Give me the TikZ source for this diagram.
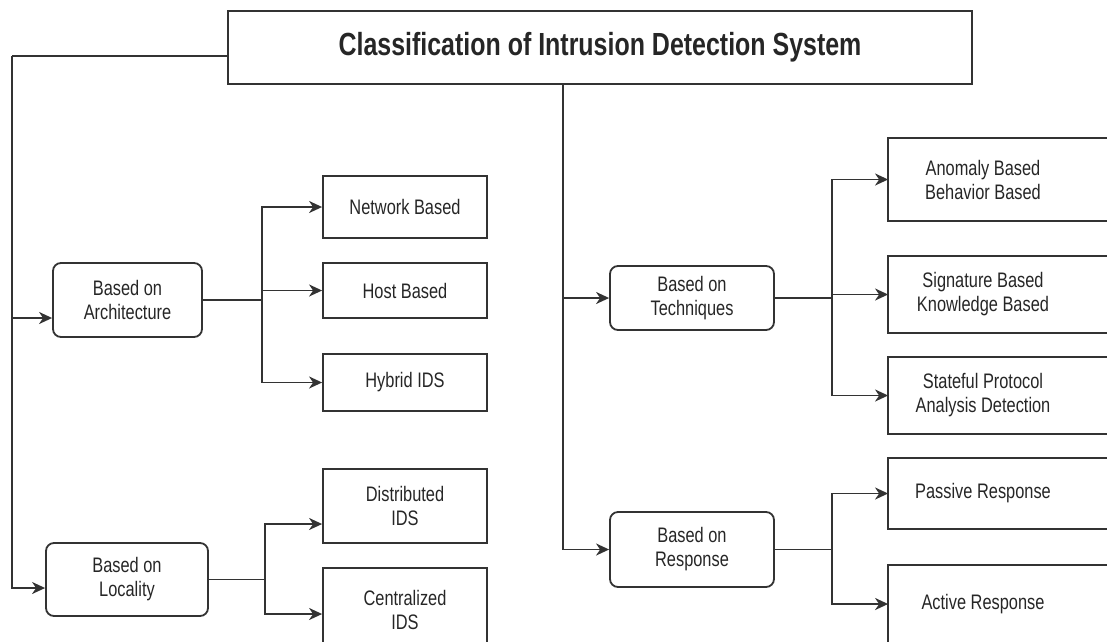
\documentclass[tikz,border=0pt]{standalone}
\usepackage{fontspec}
\setmainfont{Liberation Sans}[FakeStretch=0.78]
\usetikzlibrary{arrows.meta}
\definecolor{ink}{HTML}{333333}

\begin{document}
\begin{tikzpicture}[
  x=1pt, y=-1pt,
  line/.style={draw=ink, line width=1.8pt},
  arr/.style={line, -{Stealth[length=13pt,width=12pt,inset=4pt]}},
  box/.style={draw=ink, line width=1.8pt, text=black!85, align=center, inner sep=2pt,
    font=\fontsize{21}{24}\selectfont},
  grp/.style={box, rounded corners=8pt},
  leaf/.style={box, minimum width=164pt},
  cut/.style={box, draw=none, minimum width=188pt},
]
\useasboundingbox (0,0) rectangle (1107,641);
\clip (0,0) rectangle (1107,641);
%\draw[gray, help lines] (0,0) grid[step=50] (1107,641);
\node[box, line width=2pt, minimum width=744pt, minimum height=73pt,
  font=\bfseries\fontsize{32}{36}\selectfont] (title) at (600,47.5)
  {Classification of Intrusion Detection System};

\node[grp, minimum width=149pt, minimum height=74pt] (arch) at (127.5,300) {Based on\\Architecture};
\node[grp, minimum width=162pt, minimum height=73pt] (loc)  at (127,579.5) {Based on\\Locality};
\node[grp, minimum width=164pt, minimum height=64pt] (tech) at (692,298)   {Based on\\Techniques};
\node[grp, minimum width=164pt, minimum height=75pt] (resp) at (692,549.5) {Based on\\Response};

\node[leaf, minimum height=62pt] (net)  at (405,207)   {Network Based};
\node[leaf, minimum height=55pt] (host) at (405,290.5) {Host Based};
\node[leaf, minimum height=57pt] (hyb)  at (405,382.5) {Hybrid IDS};
\node[leaf, minimum height=74pt] (dist) at (405,506)   {Distributed\\IDS};
\node[leaf, minimum height=84pt] (cent) at (405,610)   {Centralized\\IDS};

\node[cut, minimum height=81pt] (anom) at (983,179.5) {Anomaly Based\\Behavior Based};
\node[cut, minimum height=75pt] (sig)  at (983,294.5) {Signature Based\\Knowledge Based};
\node[cut, minimum height=75pt] (stat) at (983,395.5) {Stateful Protocol\\Analysis Detection};
\node[cut, minimum height=69pt] (pass) at (983,493.5) {Passive Response};
\node[cut, minimum height=76pt] (act)  at (983,604)   {Active Response};
% right column runs off the page
\foreach \n in {anom,sig,stat,pass,act}
  \draw[line] ([xshift=60pt]\n.north east) -- (\n.north west) -- (\n.south west) -- ([xshift=60pt]\n.south east);

\coordinate (lt) at (12,56);
\coordinate (ct) at (563,0);
\coordinate (ab) at (262,300);
\coordinate (lb) at (265,579.5);
\coordinate (tb) at (832,298);
\coordinate (rb) at (832,549.5);

\draw[line] (title.west |- lt) -- (lt);
\draw[arr] (lt) |- ([yshift=-18pt]arch.west);
\draw[arr] (lt) |- ([yshift=-8.5pt]loc.west);
\draw[arr] (title.south -| ct) |- (tech.west);
\draw[arr] (title.south -| ct) |- (resp.west);

\draw[line] (arch.east) -- (ab);
\foreach \n in {net,host,hyb}
  \draw[arr] (ab) |- (\n.west);
\draw[line] (loc.east) -- (lb);
\draw[arr] (lb) |- ([yshift=-18pt]dist.west);
\draw[arr] (lb) |- ([yshift=-4pt]cent.west);
\draw[line] (tech.east) -- (tb);
\foreach \n in {anom,sig,stat}
  \draw[arr] (tb) |- (\n.west);
\draw[line] (resp.east) -- (rb);
\foreach \n in {pass,act}
  \draw[arr] (rb) |- (\n.west);
\end{tikzpicture}
\end{document}
